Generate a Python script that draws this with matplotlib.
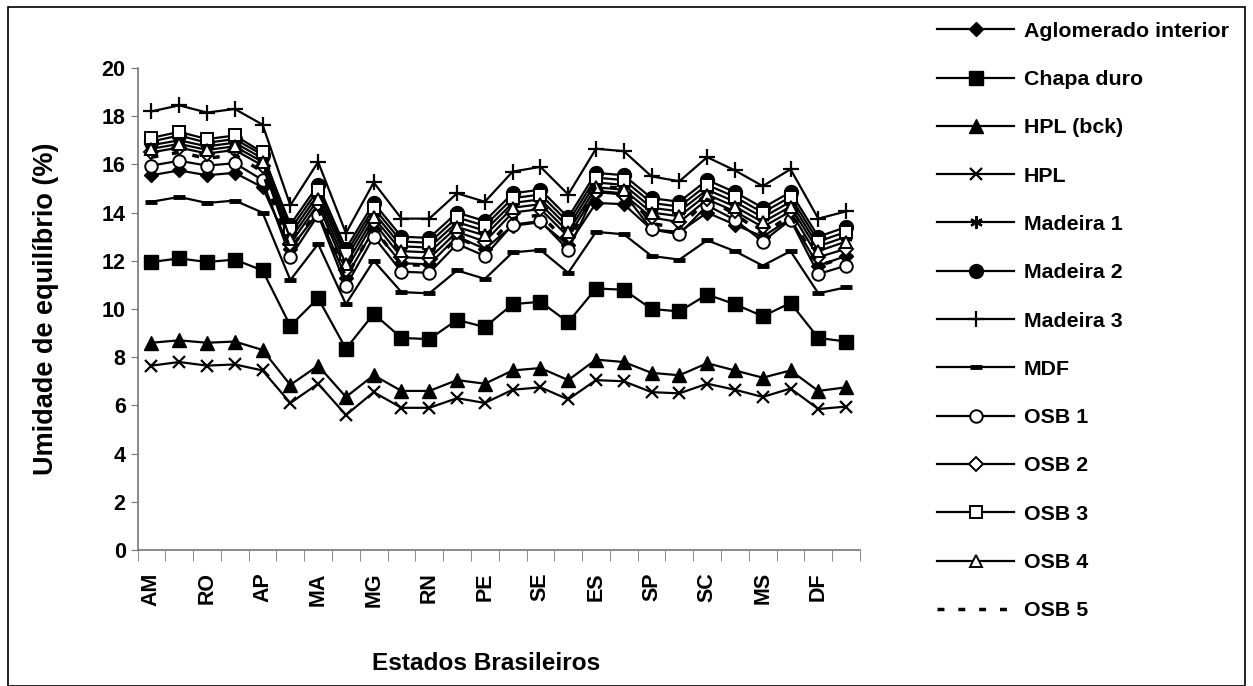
import matplotlib
matplotlib.use("Agg")
import matplotlib.pyplot as plt
from matplotlib.patches import Rectangle
import numpy as np

plt.rcParams["font.family"] = ["Liberation Sans", "DejaVu Sans"]

# 26 categorias, rótulo a cada duas
estados = ["AM", "AC", "RO", "RR", "AP", "PA", "MA", "PI", "MG", "CE", "RN", "PB", "PE",
           "AL", "SE", "BA", "ES", "RJ", "SP", "PR", "SC", "RS", "MS", "MT", "DF", "GO"]
rotulos_x = estados[::2]

aglomerado = [15.55, 15.75, 15.55, 15.65, 15.05, 12.5, 14.0, 11.3, 13.3, 11.9, 11.85, 13.0, 12.5,
              13.45, 13.6, 12.65, 14.4, 14.35, 13.3, 13.2, 14.0, 13.5, 13.0, 13.75, 11.8, 12.2]
chapa_duro = [11.95, 12.1, 11.95, 12.05, 11.6, 9.3, 10.45, 8.35, 9.8, 8.8, 8.75, 9.55, 9.25,
              10.2, 10.3, 9.45, 10.85, 10.8, 10.0, 9.9, 10.6, 10.2, 9.7, 10.25, 8.8, 8.65]
hpl_bck = [8.6, 8.7, 8.6, 8.65, 8.3, 6.85, 7.65, 6.35, 7.25, 6.6, 6.6, 7.05, 6.9,
           7.45, 7.55, 7.05, 7.9, 7.8, 7.35, 7.25, 7.75, 7.45, 7.15, 7.45, 6.6, 6.75]
hpl = [7.65, 7.8, 7.65, 7.7, 7.45, 6.1, 6.9, 5.6, 6.55, 5.9, 5.9, 6.3, 6.1,
       6.65, 6.75, 6.25, 7.05, 7.0, 6.55, 6.5, 6.9, 6.65, 6.35, 6.7, 5.85, 5.95]
madeira1 = [16.8, 17.0, 16.75, 16.9, 16.25, 13.1, 14.75, 12.1, 14.0, 12.6, 12.55, 13.6, 13.25,
            14.4, 14.55, 13.4, 15.25, 15.15, 14.2, 14.05, 14.95, 14.45, 13.8, 14.45, 12.6, 13.0]
madeira2 = [16.95, 17.2, 16.9, 17.05, 16.4, 13.5, 15.15, 12.5, 14.4, 13.0, 12.95, 14.0, 13.65,
            14.8, 14.95, 13.8, 15.65, 15.55, 14.6, 14.45, 15.35, 14.85, 14.2, 14.85, 13.0, 13.4]
madeira3 = [18.2, 18.45, 18.15, 18.3, 17.65, 14.3, 16.1, 13.15, 15.25, 13.75, 13.75, 14.8, 14.45,
            15.7, 15.9, 14.75, 16.65, 16.55, 15.5, 15.3, 16.3, 15.75, 15.1, 15.8, 13.75, 14.05]
mdf = [14.45, 14.65, 14.4, 14.5, 14.0, 11.2, 12.7, 10.2, 12.0, 10.7, 10.65, 11.6, 11.25,
       12.35, 12.45, 11.5, 13.2, 13.1, 12.2, 12.05, 12.85, 12.4, 11.8, 12.4, 10.65, 10.9]
osb1 = [15.95, 16.15, 15.95, 16.05, 15.35, 12.15, 13.9, 10.95, 13.0, 11.55, 11.5, 12.7, 12.2,
        13.5, 13.65, 12.45, 14.9, 14.8, 13.3, 13.1, 14.3, 13.7, 12.8, 13.7, 11.45, 11.8]
osb2 = [16.5, 16.7, 16.45, 16.6, 15.95, 12.7, 14.35, 11.6, 13.6, 12.15, 12.1, 13.2, 12.8,
        14.0, 14.15, 13.0, 14.85, 14.75, 13.8, 13.6, 14.55, 14.05, 13.4, 14.05, 12.15, 12.5]
osb3 = [17.1, 17.35, 17.05, 17.2, 16.5, 13.3, 14.95, 12.3, 14.2, 12.8, 12.75, 13.8, 13.45,
        14.6, 14.75, 13.6, 15.45, 15.35, 14.4, 14.25, 15.15, 14.65, 14.0, 14.65, 12.8, 13.2]
osb4 = [16.65, 16.85, 16.6, 16.75, 16.1, 12.9, 14.55, 11.85, 13.8, 12.4, 12.35, 13.4, 13.05,
        14.2, 14.35, 13.2, 15.05, 14.95, 14.0, 13.85, 14.75, 14.25, 13.6, 14.25, 12.4, 12.8]
osb5 = [16.3, 16.5, 16.25, 16.4, 15.7, 12.45, 14.15, 11.3, 13.35, 11.85, 11.8, 12.95, 12.5,
        13.75, 13.9, 12.75, 15.1, 15.0, 13.55, 13.35, 14.55, 13.95, 13.1, 13.9, 11.8, 12.15]

fig = plt.figure(figsize=(12.53, 6.86), dpi=100)
ax = fig.add_axes([137.5 / 1253, 1 - 550 / 686, (860 - 137.5) / 1253, (550 - 68) / 686])

x = np.arange(len(estados))
k = dict(color="black", lw=1.6)
series = [
    ("Aglomerado interior", aglomerado, dict(marker="D", ms=7, mfc="black")),
    ("Chapa duro", chapa_duro, dict(marker="s", ms=10, mfc="black")),
    ("HPL (bck)", hpl_bck, dict(marker="^", ms=10, mfc="black")),
    ("HPL", hpl, dict(marker="x", ms=9, mew=1.6)),
    ("Madeira 1", madeira1, dict(marker=(6, 2, 0), ms=9, mew=1.6)),
    ("Madeira 2", madeira2, dict(marker="o", ms=10, mfc="black")),
    ("Madeira 3", madeira3, dict(marker="+", ms=12, mew=1.6)),
    ("MDF", mdf, dict(marker="_", ms=8, mew=3.5)),
    ("OSB 1", osb1, dict(marker="o", ms=9, mfc="white", mew=1.4)),
    ("OSB 2", osb2, dict(marker="D", ms=7, mfc="white", mew=1.4)),
    ("OSB 3", osb3, dict(marker="s", ms=9, mfc="white", mew=1.4)),
    ("OSB 4", osb4, dict(marker="^", ms=9, mfc="white", mew=1.4)),
]
handles = []
for nome, vals, st in series:
    h, = ax.plot(x, vals, label=nome, mec="black", **k, **st)
    handles.append(h)
h5, = ax.plot(x, osb5, color="black", lw=2.5, ls=(0, (2, 4)), label="OSB 5")
handles.append(h5)

ax.set_xlim(-0.5, len(estados) - 0.5)
ax.set_ylim(0, 20)
ax.set_yticks(range(0, 21, 2))
ax.set_xticks(x[::2])
ax.set_xticklabels(rotulos_x, rotation=90, fontweight="bold", fontsize=15.5)
ax.set_xticks(np.arange(-0.5, len(estados), 1), minor=True)
ax.tick_params(axis="x", which="major", length=0, pad=16)
ax.tick_params(axis="x", which="minor", length=8, color="#777777", direction="out")
ax.tick_params(axis="y", length=5, color="#777777", labelsize=15.5)
for t in ax.get_yticklabels():
    t.set_fontweight("bold")
for s in ["top", "right"]:
    ax.spines[s].set_visible(False)
for s in ["left", "bottom"]:
    ax.spines[s].set_color("#777777")
    ax.spines[s].set_linewidth(1.2)

ax.set_ylabel("Umidade de equilíbrio (%)", fontsize=19.5, fontweight="bold")
ax.yaxis.set_label_coords(-0.108, 0.5)
fig.text(0.388, 1 - 664 / 686, "Estados Brasileiros", fontsize=17.6, fontweight="bold",
         ha="center", va="center")

leg = fig.legend(handles=handles, loc="upper left", bbox_to_anchor=(918 / 1253, 1 - 2.5 / 686),
                 frameon=False, prop=dict(size=15.4, weight="bold"), handlelength=3.6,
                 labelspacing=1.37, handletextpad=0.46)

fig.add_artist(Rectangle((8 / 1253, 0), (1245 - 8) / 1253, (679) / 686, transform=fig.transFigure,
                         fill=False, edgecolor="black", lw=1.2))

fig.savefig("out.png", dpi=100)
